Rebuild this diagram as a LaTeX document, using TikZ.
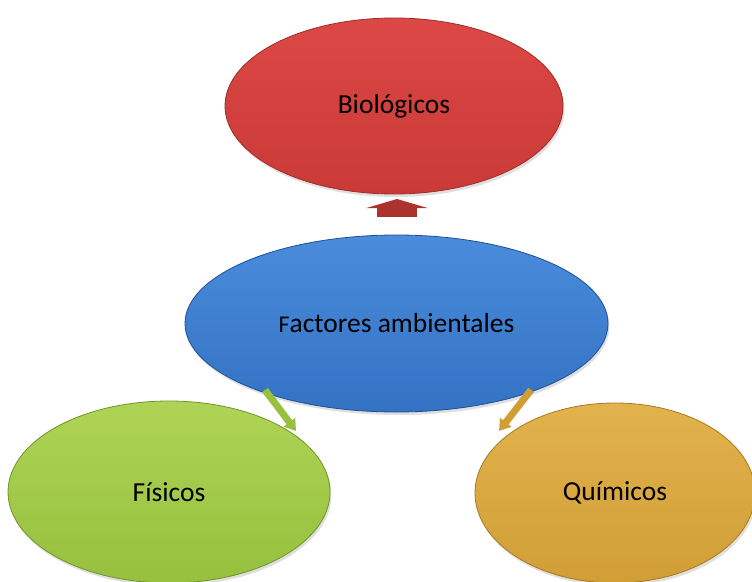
\documentclass[tikz,border=0pt]{standalone}
\usepackage{fontspec}
\setmainfont{Carlito}
\usetikzlibrary{shapes.geometric,arrows.meta,shadows}
\definecolor{bioTop}{HTML}{DC4845}
\definecolor{bioBot}{HTML}{C93A36}
\definecolor{bioRim}{HTML}{A02C28}
\definecolor{facTop}{HTML}{4A8CDB}
\definecolor{facBot}{HTML}{3472C4}
\definecolor{facRim}{HTML}{1F5096}
\definecolor{fisTop}{HTML}{AFD356}
\definecolor{fisBot}{HTML}{96C03D}
\definecolor{fisRim}{HTML}{6F9529}
\definecolor{quiTop}{HTML}{E2B24C}
\definecolor{quiBot}{HTML}{D19E36}
\definecolor{quiRim}{HTML}{A67A22}
\begin{document}
\begin{tikzpicture}[x=1pt, y=-1pt,
    bubble/.style={ellipse, inner sep=0pt, line width=0.8pt,
      font=\fontsize{27.5}{33}\selectfont,
      drop shadow={opacity=0.25, shadow xshift=1.5pt, shadow yshift=-3pt}},
    link/.style={line cap=butt}]
    \useasboundingbox (0,0) rectangle (752,581);
    % outer ellipses
    \node[bubble, minimum width=338pt, minimum height=176pt, draw=bioRim,
      top color=bioTop, bottom color=bioBot] (bio) at (394,106) {Biológicos};
    \node[bubble, minimum width=322pt, minimum height=182pt, draw=fisRim,
      top color=fisTop, bottom color=fisBot] (fis) at (169,492) {Físicos};
    \node[bubble, minimum width=280pt, minimum height=180pt, draw=quiRim,
      top color=quiTop, bottom color=quiBot] (qui) at (615,493) {Químicos};
    % centre
    \node[bubble, minimum width=423pt, minimum height=177pt, draw=facRim,
      top color=facTop, bottom color=facBot] (fac) at (396.5,323.5)
      {{\fontsize{24}{33}\selectfont F}actores ambientales};
    % arrows
    \coordinate (bioTail) at (397,217);
    \coordinate (bioTip) at (397,199);
    \coordinate (fisTail) at (265,390);
    \coordinate (fisTip) at (296,431);
    \coordinate (quiTail) at (531,390);
    \coordinate (quiTip) at (499,431);
    \draw[link, bioRim!80!bioTop, line width=40pt,
      -{Triangle[width=61pt, length=9pt]}] (bioTail) -- (bioTip);
    \draw[link, fisBot, line width=7pt,
      -{Triangle[width=14pt, length=11pt]}] (fisTail) -- (fisTip);
    \draw[link, quiBot, line width=7pt,
      -{Triangle[width=14pt, length=11pt]}] (quiTail) -- (quiTip);
\end{tikzpicture}
\end{document}
